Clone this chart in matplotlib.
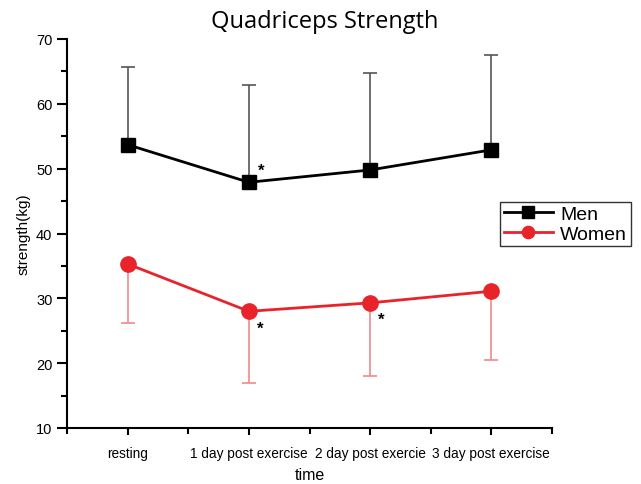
import numpy as np
import matplotlib.pyplot as plt
from matplotlib.ticker import MultipleLocator

# data
time_labels = ['resting', '1 day post exercise', '2 day post exercie', '3 day post exercise']
men = [53.7, 47.9, 49.8, 52.9]
men_sd = [12.0, 15.0, 15.0, 14.6]
women = [35.3, 28.0, 29.3, 31.1]
women_sd = [9.1, 11.1, 11.3, 10.6]
# (x index, group) of the significance stars
stars = [(1, 'men'), (1, 'women'), (2, 'women')]

plt.rcParams['font.family'] = ['Liberation Sans', 'DejaVu Sans']

fig = plt.figure(figsize=(6.41, 4.85), dpi=100)
ax = fig.add_axes([67/641, 1-429/485, (552-67)/641, (429-40)/485])

x = np.arange(1, len(time_labels)+1)

ax.errorbar(x, men, yerr=[np.zeros(4), men_sd], fmt='none', ecolor='#555555',
            elinewidth=1.2, capsize=5, capthick=1.2)
ax.errorbar(x, women, yerr=[women_sd, np.zeros(4)], fmt='none', ecolor='#f08a8a',
            elinewidth=1.2, capsize=5, capthick=1.2)
ax.plot(x, men, color='black', lw=2, marker='s', ms=10, label='Men', zorder=3)
ax.plot(x, women, color='#e8232a', lw=2, marker='o', ms=11, label='Women', zorder=3)

for i, who in stars:
    if who == 'men':
        ax.text(x[i]+0.1, men[i]+1.8, '*', fontsize=12, fontweight='bold', ha='center', va='center')
    else:
        ax.text(x[i]+0.09, women[i]-2.6, '*', fontsize=12, fontweight='bold', ha='center', va='center')

ax.set_xlim(0.5, 4.5)
ax.set_ylim(10, 70)
ax.set_xticks(x)
ax.set_xticklabels(time_labels, fontsize=9.8)
ax.xaxis.set_minor_locator(MultipleLocator(0.5))
ax.yaxis.set_major_locator(MultipleLocator(10))
ax.yaxis.set_minor_locator(MultipleLocator(5))
ax.tick_params(axis='y', which='major', length=7, width=1.5, labelsize=10.5)
ax.tick_params(axis='y', which='minor', length=4, width=1.5)
ax.tick_params(axis='x', which='major', length=5, width=1.5, pad=8)
ax.tick_params(axis='x', which='minor', length=4, width=1.5)
for s in ['top', 'right']:
    ax.spines[s].set_visible(False)
for s in ['left', 'bottom']:
    ax.spines[s].set_linewidth(1.5)

ax.set_xlabel('time', fontsize=11.5, labelpad=5)
ax.set_ylabel('strength(kg)', fontsize=11)
fig.text(325/641, 1-22/485, 'Quadriceps Strength', fontsize=17, ha='center', va='center',
         family=['Open Sans', 'DejaVu Sans'])

leg = ax.legend(loc='center left', bbox_to_anchor=(500/641, 1-225/485),
                bbox_transform=fig.transFigure, fontsize=14, frameon=True,
                fancybox=False, edgecolor='black', handlelength=2.5,
                borderpad=0.2, labelspacing=0.1, handletextpad=0.4,
                borderaxespad=0, markerscale=0.8)
leg.get_frame().set_linewidth(1.0)

fig.savefig('out.png', dpi=100)
